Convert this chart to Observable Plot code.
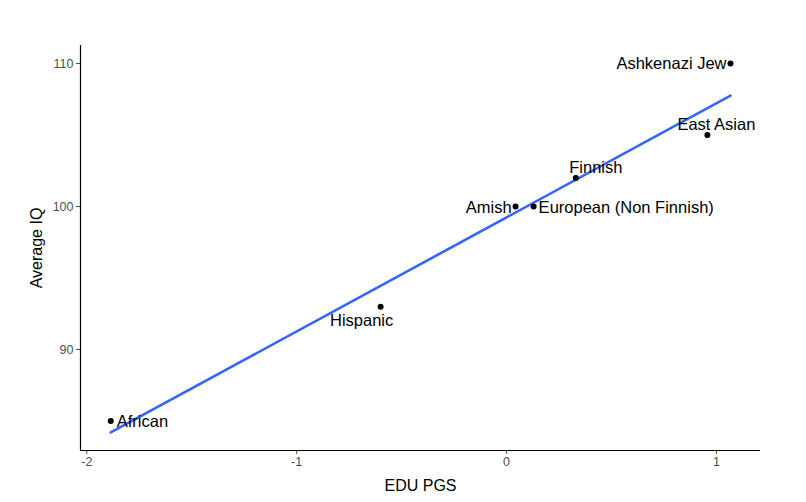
<!DOCTYPE html>
<html>
<head>
<meta charset="utf-8">
<script src="https://cdn.jsdelivr.net/npm/d3@7"></script>
<script src="https://cdn.jsdelivr.net/npm/@observablehq/plot@0.6"></script>
<style>
  body { margin: 0; background: #fff; }
  #chart svg { font-family: "Liberation Sans", Arial, sans-serif; }
</style>
</head>
<body>
<div id="chart"></div>
<script>
// populations, EDU polygenic score, average IQ
const groups = ["African", "Hispanic", "Amish", "European (Non Finnish)", "Finnish", "East Asian", "Ashkenazi Jew"];
const eduPgs = [-1.886, -0.60, 0.043, 0.129, 0.33, 0.957, 1.067];
const avgIq = [85, 93, 100, 100, 102, 105, 110];

const xTicks = [-2, -1, 0, 1];
const yTicks = [90, 100, 110];

const data = groups.map((g, i) => ({group: g, x: eduPgs[i], y: avgIq[i]}));

// where each label sits relative to its point (like ggrepel did)
const labelPos = {
  "African": {dx: 6, dy: 1, anchor: "start"},
  "Hispanic": {dx: -19, dy: 14, anchor: "middle"},
  "Amish": {dx: -4, dy: 1, anchor: "end"},
  "European (Non Finnish)": {dx: 5, dy: 1, anchor: "start"},
  "Finnish": {dx: 20, dy: -10, anchor: "middle"},
  "East Asian": {dx: 9, dy: -10, anchor: "middle"},
  "Ashkenazi Jew": {dx: -4, dy: 0, anchor: "end"}
};

const chart = Plot.plot({
  width: 806,
  height: 502,
  marginLeft: 80,
  marginRight: 46,
  marginTop: 45,
  marginBottom: 52,
  x: {domain: [-2.03, 1.21]},
  y: {domain: [82.94, 111.26]},
  marks: [
    Plot.axisX({
      ticks: xTicks, tickFormat: d => String(d), tickSize: 4, tickPadding: 3,
      fontSize: 12.5, color: "#4d4d4d",
      label: "EDU PGS", labelAnchor: "center", labelOffset: 40, labelArrow: false
    }),
    Plot.axisY({
      ticks: yTicks, tickFormat: d => String(d), tickSize: 4, tickPadding: 3,
      fontSize: 12.5, color: "#4d4d4d",
      label: "Average IQ", labelAnchor: "center", labelOffset: 50, labelArrow: false
    }),
    Plot.ruleY([82.94], {stroke: "black", strokeWidth: 1.2}),
    Plot.ruleX([-2.03], {stroke: "black", strokeWidth: 1.2}),
    Plot.linearRegressionY(data, {x: "x", y: "y", stroke: "#3366FF", strokeWidth: 2.6, ci: 0}),
    Plot.dot(data, {x: "x", y: "y", r: 3, fill: "black"}),
    ...groups.map(g => {
      const p = labelPos[g];
      return Plot.text(data.filter(d => d.group === g), {
        x: "x", y: "y", text: "group",
        textAnchor: p.anchor, dx: p.dx, dy: p.dy,
        fontSize: 16.5, fill: "black"
      });
    })
  ]
});

// axis titles: black, larger, no arrows
chart.querySelectorAll("[aria-label='x-axis label'], [aria-label='y-axis label']").forEach(el => {
  el.setAttribute("fill", "black");
  el.setAttribute("font-size", "16");
  el.querySelectorAll("text").forEach(t => {
    t.setAttribute("fill", "black");
    t.textContent = t.textContent.replace(/[↑→←↓]/g, "").trim();
  });
});

document.getElementById("chart").append(chart);
</script>
</body>
</html>
